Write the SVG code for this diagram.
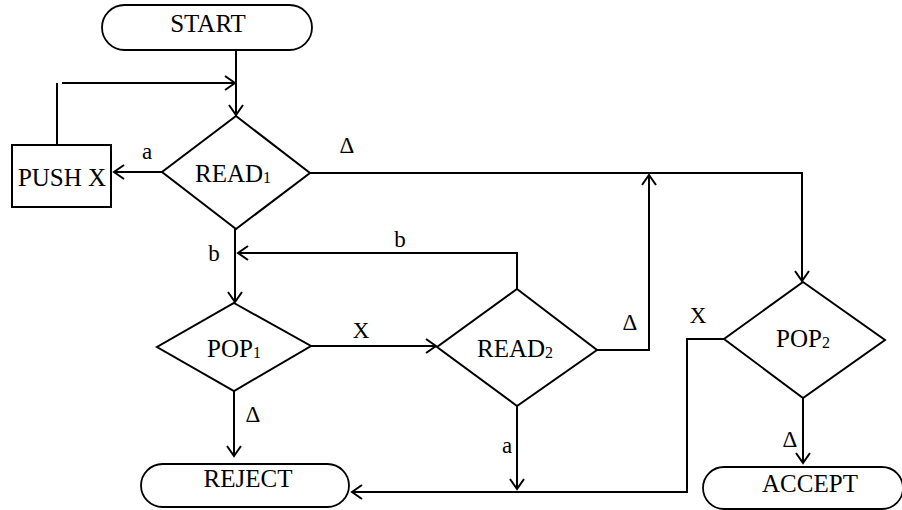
<svg xmlns="http://www.w3.org/2000/svg" width="902" height="510" viewBox="0 0 902 510">
<style>
  .shape { fill: #fff; stroke: #000; stroke-width: 2; }
  .pill { fill: #fff; stroke: #000; stroke-width: 1.8; }
  .conn { fill: none; stroke: #000; stroke-width: 2; }
  .node-text { font-family: "Liberation Serif", "Times New Roman", serif; font-size: 25px; fill: #000; text-anchor: middle; }
  .label { font-family: "Liberation Serif", "Times New Roman", serif; font-size: 23px; fill: #000; text-anchor: middle; }
  .sub { font-size: 16px; }
</style>
<defs>
  <marker id="arrow" markerUnits="userSpaceOnUse" markerWidth="1" markerHeight="1" refX="0" refY="0" orient="auto" overflow="visible">
    <path d="M-10,-7 L0,0 L-10,7" fill="none" stroke="#000" stroke-width="2"/>
  </marker>
</defs>
<rect width="902" height="510" fill="#fff"/>

<g id="connectors">
  <path class="conn" d="M236,50 V115" marker-end="url(#arrow)"/>
  <path class="conn" d="M57,145 V83 M62,83 H235" marker-end="url(#arrow)"/>
  <path class="conn" d="M162,172 H114" marker-end="url(#arrow)"/>
  <path class="conn" d="M310,173 H802 V281" marker-end="url(#arrow)"/>
  <path class="conn" d="M235,229 V302" marker-end="url(#arrow)"/>
  <path class="conn" d="M517,289 V253 H238" marker-end="url(#arrow)"/>
  <path class="conn" d="M311,346 H436" marker-end="url(#arrow)"/>
  <path class="conn" d="M597,350 H649 V175" marker-end="url(#arrow)"/>
  <path class="conn" d="M517,406 V489" marker-end="url(#arrow)"/>
  <path class="conn" d="M724,339 H687 V492 H352" marker-end="url(#arrow)"/>
  <path class="conn" d="M234,391 V456" marker-end="url(#arrow)"/>
  <path class="conn" d="M803,398 V463" marker-end="url(#arrow)"/>
</g>

<g id="labels">
  <text class="label" x="147" y="159">a</text>
  <text class="label" x="347" y="153">Δ</text>
  <text class="label" x="214" y="261">b</text>
  <text class="label" x="400" y="247">b</text>
  <text class="label" x="361" y="338">X</text>
  <text class="label" x="253" y="422">Δ</text>
  <text class="label" x="630" y="330">Δ</text>
  <text class="label" x="507" y="453">a</text>
  <text class="label" x="698" y="323">X</text>
  <text class="label" x="790" y="447">Δ</text>
</g>

<g id="start">
  <rect class="pill" x="102" y="5" width="210" height="45" rx="22.5" ry="22.5"/>
  <text class="node-text" x="208" y="32">START</text>
</g>

<g id="push">
  <rect class="shape" x="12" y="145" width="99" height="62"/>
  <text class="node-text" x="62" y="186">PUSH X</text>
</g>

<g id="read1">
  <polygon class="shape" points="236,116 310,173 236,229 162,172"/>
  <text class="node-text" x="233" y="182">READ<tspan class="sub" dy="1">1</tspan></text>
</g>

<g id="pop1">
  <polygon class="shape" points="234,303 311,346 234,391 157,347"/>
  <text class="node-text" x="234" y="357">POP<tspan class="sub" dy="1">1</tspan></text>
</g>

<g id="read2">
  <polygon class="shape" points="517,289 597,350 517,406 437,347"/>
  <text class="node-text" x="515" y="357">READ<tspan class="sub" dy="1">2</tspan></text>
</g>

<g id="pop2">
  <polygon class="shape" points="803,282 885,340 803,398 724,339"/>
  <text class="node-text" x="803" y="347">POP<tspan class="sub" dy="1">2</tspan></text>
</g>

<g id="reject">
  <rect class="pill" x="141" y="464" width="208" height="43" rx="21.5" ry="21.5"/>
  <text class="node-text" x="248" y="487">REJECT</text>
</g>

<g id="accept">
  <rect class="pill" x="703" y="467" width="200" height="42" rx="21" ry="21"/>
  <text class="node-text" x="810" y="492">ACCEPT</text>
</g>
</svg>
